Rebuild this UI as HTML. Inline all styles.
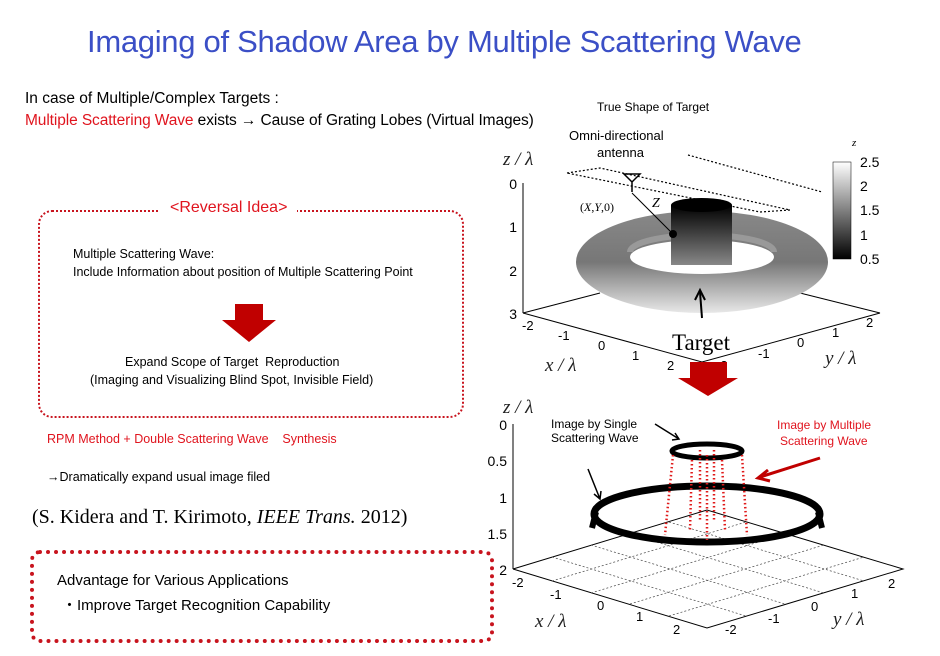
<!DOCTYPE html>
<html><head><meta charset="utf-8"><style>
body{margin:0;width:940px;height:656px;background:#fff;position:relative;overflow:hidden;font-family:"Liberation Sans",sans-serif}
.t{position:absolute;white-space:nowrap}
</style></head><body>
<div class="t" style="left:87px;top:24px;font-size:31px;color:#3b4fc6;letter-spacing:-0.3px">Imaging of Shadow Area by Multiple Scattering Wave</div>
<div class="t" style="left:25px;top:90px;font-size:15.5px">In case of Multiple/Complex Targets :</div>
<div class="t" style="left:25px;top:112px;font-size:15.5px;letter-spacing:-0.1px"><span style="color:#e0141e">Multiple Scattering Wave</span> exists → Cause of Grating Lobes (Virtual Images)</div>
<div style="position:absolute;left:38px;top:210px;width:422px;height:204px;border:2px dotted #c8141e;border-radius:14px"></div>
<div class="t" style="left:160px;top:199px;background:#fff;padding:0 10px;font-size:16px;color:#e0141e">&lt;Reversal Idea&gt;</div>
<div class="t" style="left:73px;top:247px;font-size:12.5px">Multiple Scattering Wave:</div>
<div class="t" style="left:73px;top:265px;font-size:12.5px">Include Information about position of Multiple Scattering Point</div>
<svg style="position:absolute;left:222px;top:304px" width="54" height="38"><polygon points="13,0 41,0 41,16 54,16 27,38 0,16 13,16" fill="#c00000"/></svg>
<div class="t" style="left:125px;top:355px;font-size:12.5px">Expand Scope of Target &nbsp;Reproduction</div>
<div class="t" style="left:90px;top:373px;font-size:12.5px">(Imaging and Visualizing Blind Spot, Invisible Field)</div>
<div class="t" style="left:47px;top:432px;font-size:12.5px;color:#e0141e">RPM Method + Double Scattering Wave &nbsp;&nbsp;&nbsp;Synthesis</div>
<div class="t" style="left:47px;top:470px;font-size:12.5px">→Dramatically expand usual image filed</div>
<div class="t" style="left:32px;top:506px;font-size:20px;font-family:'Liberation Serif',serif">(S. Kidera and T. Kirimoto, <i>IEEE Trans.</i> 2012)</div>
<div style="position:absolute;left:30px;top:550px;width:456px;height:85px;border:4px dotted #c8141e;border-radius:10px"></div>
<div class="t" style="left:57px;top:572px;font-size:15px">Advantage for Various Applications</div>
<div class="t" style="left:62px;top:594px;font-size:15px">・Improve Target Recognition Capability</div>
<div class="t" style="left:597px;top:100px;font-size:12px">True Shape of Target</div>

<svg style="position:absolute;left:0;top:0" width="940" height="656" font-family="Liberation Sans, sans-serif">
<defs>
<linearGradient id="tg" x1="0" y1="0" x2="0" y2="1"><stop offset="0" stop-color="#888"/><stop offset="0.5" stop-color="#777"/><stop offset="1" stop-color="#e8e8e8"/></linearGradient>
<linearGradient id="cg" x1="0" y1="0" x2="0" y2="1"><stop offset="0" stop-color="#000"/><stop offset="1" stop-color="#888"/></linearGradient>
<linearGradient id="cb" x1="0" y1="0" x2="0" y2="1"><stop offset="0" stop-color="#fff"/><stop offset="1" stop-color="#000"/></linearGradient>
</defs>
<g font-family="Liberation Serif, serif" font-style="italic" font-size="19" fill="#222">
<text x="503" y="165">z / λ</text><text x="545" y="371">x / λ</text><text x="825" y="364">y / λ</text>
<text x="503" y="413">z / λ</text><text x="535" y="627">x / λ</text><text x="833" y="625">y / λ</text>
</g>
<g stroke="#000" stroke-width="1" fill="none">
<line x1="523" y1="183" x2="523" y2="313"/><polyline points="523,313 702,362 880,313"/>
<line x1="523" y1="313" x2="600" y2="293"/><line x1="880" y1="313" x2="800" y2="293"/>
</g>
<g font-size="14" fill="#000" text-anchor="end">
<text x="517" y="189">0</text><text x="517" y="232">1</text><text x="517" y="276">2</text><text x="517" y="319">3</text>
</g>
<g font-size="13" fill="#000">
<text x="522" y="330">-2</text><text x="558" y="340">-1</text><text x="598" y="350">0</text><text x="632" y="360">1</text><text x="667" y="370">2</text>
<text x="716" y="370">-2</text><text x="758" y="358">-1</text><text x="797" y="347">0</text><text x="832" y="337">1</text><text x="866" y="327">2</text>
</g>
<g stroke="#000" stroke-dasharray="2,2" stroke-width="1.2" fill="none">
<polyline points="567,173 600,168 790,210 760,212 567,173"/><line x1="688" y1="155" x2="822" y2="192"/>
</g>
<ellipse cx="702" cy="262" rx="126" ry="51" fill="url(#tg)"/>
<ellipse cx="702" cy="257" rx="72" ry="17" fill="#fff"/>
<path d="M630,252 A72,17 0 0 1 774,252" fill="none" stroke="#999" stroke-width="6"/>
<rect x="671" y="205" width="61" height="60" fill="url(#cg)"/>
<ellipse cx="701.5" cy="205" rx="30.5" ry="7" fill="#000"/>
<line x1="632" y1="193" x2="672" y2="233" stroke="#000"/><circle cx="673" cy="234" r="4" fill="#000"/>
<path d="M624,174 L640,174 L632,182 Z M632,182 L632,192" stroke="#000" fill="none" stroke-width="1.5"/>
<text x="569" y="140" font-size="13">Omni-directional</text><text x="597" y="157" font-size="13">antenna</text>
<text x="580" y="211" font-size="12" font-family="Liberation Serif,serif">(<tspan font-style="italic">X</tspan>,<tspan font-style="italic">Y</tspan>,0)</text>
<text x="652" y="207" font-size="14" font-style="italic" font-family="Liberation Serif,serif">Z</text>
<line x1="702" y1="318" x2="700" y2="292" stroke="#000" stroke-width="2"/><path d="M695,300 L700,290 L705,300" stroke="#000" fill="none" stroke-width="2"/>
<text x="672" y="350" font-size="23" font-family="Liberation Serif,serif">Target</text>
<rect x="833" y="162" width="18" height="97" fill="url(#cb)" stroke="#000" stroke-width="0.5"/>
<g font-size="14"><text x="860" y="167">2.5</text><text x="860" y="191">2</text><text x="860" y="215">1.5</text><text x="860" y="240">1</text><text x="860" y="264">0.5</text></g>
<text x="852" y="146" font-size="11" font-style="italic" font-family="Liberation Serif,serif">z</text>
<polygon points="690,362 727,362 727,378 738,378 708,396 678,378 690,378" fill="#c00000"/>
<g stroke="#000" fill="none">
<line x1="513" y1="424" x2="513" y2="569"/><polyline points="513,569 707,628 903,569 707,510 513,569"/>
</g>
<g stroke="#444" stroke-dasharray="2,2" stroke-width="0.7" fill="none">
<line x1="552" y1="557" x2="746" y2="616"/><line x1="591" y1="545" x2="785" y2="604"/><line x1="630" y1="534" x2="824" y2="593"/><line x1="669" y1="522" x2="864" y2="581"/>
<line x1="552" y1="581" x2="746" y2="522"/><line x1="591" y1="593" x2="785" y2="534"/><line x1="630" y1="604" x2="824" y2="545"/><line x1="669" y1="616" x2="864" y2="557"/>
</g>
<g font-size="14" text-anchor="end">
<text x="507" y="430">0</text><text x="507" y="466">0.5</text><text x="507" y="503">1</text><text x="507" y="539">1.5</text><text x="507" y="575">2</text>
</g>
<g font-size="13">
<text x="512" y="587">-2</text><text x="550" y="599">-1</text><text x="597" y="610">0</text><text x="636" y="621">1</text><text x="673" y="634">2</text>
<text x="725" y="634">-2</text><text x="768" y="623">-1</text><text x="811" y="611">0</text><text x="851" y="598">1</text><text x="888" y="588">2</text>
</g>
<ellipse cx="707" cy="514" rx="113" ry="28" fill="none" stroke="#000" stroke-width="7"/>
<path d="M596,512 L592,528 M818,512 L822,528" stroke="#000" stroke-width="6"/>
<ellipse cx="707" cy="451" rx="35" ry="7" fill="none" stroke="#000" stroke-width="5"/>
<g stroke="#e01a1a" stroke-width="2.5" stroke-dasharray="1.5,2.5">
<line x1="673" y1="455" x2="665" y2="535"/><line x1="742" y1="455" x2="747" y2="535"/><line x1="707" y1="455" x2="707" y2="540"/><line x1="692" y1="460" x2="690" y2="530"/><line x1="722" y1="460" x2="725" y2="530"/><line x1="700" y1="450" x2="700" y2="520"/><line x1="714" y1="450" x2="714" y2="520"/>
</g>
<text x="551" y="428" font-size="12">Image by Single</text><text x="551" y="442" font-size="12">Scattering Wave</text>
<text x="777" y="429" font-size="12" fill="#e0141e">Image by Multiple</text><text x="780" y="445" font-size="12" fill="#e0141e">Scattering Wave</text>
<path d="M655,424 L679,439 M672,440 L679,439 L675,433" stroke="#000" stroke-width="1.5" fill="none"/>
<path d="M588,469 L600,499 M594,494 L600,499 L601,491" stroke="#000" stroke-width="1.5" fill="none"/>
<path d="M820,458 L760,477 M768,470 L758,478 L770,481" stroke="#c00000" stroke-width="3" fill="none"/>
</svg>
</body></html>
